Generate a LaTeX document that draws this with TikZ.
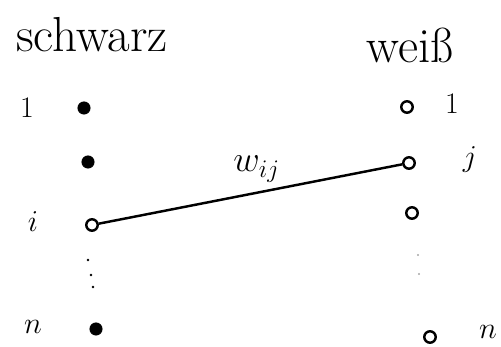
\documentclass[tikz,border=0pt]{standalone}
\begin{document}
\begin{tikzpicture}[x=0.02cm,y=-0.02cm,
  bdot/.style={circle,fill=black,draw=black,inner sep=0pt,minimum size=7pt},
  wdot/.style={circle,draw=black,line width=1.4pt,fill=white,inner sep=0pt,minimum size=6.5pt},
  tiny/.style={circle,fill=black,inner sep=0pt,minimum size=1.6pt},
  tinyg/.style={circle,fill=gray!70,inner sep=0pt,minimum size=1.2pt},
  lab/.style={font=\fontsize{17}{20}\selectfont},
  head/.style={font=\fontsize{28}{32}\selectfont}]
\useasboundingbox (0,0) rectangle (501,347);
% headings
\node[head] (hs) at (92,35) {schwarz};
\node[head] (hw) at (410,45) {weiß};
% black side
\node[bdot] (b1) at (84,108) {};
\node[bdot] (b2) at (88,162) {};
\node[wdot] (bi) at (92,225) {};
\node[tiny] (bd1) at (88,260) {};
\node[tiny] (bd2) at (91,275) {};
\node[tiny] (bd3) at (93,287) {};
\node[bdot] (bn) at (96,329) {};
\node[lab] (l1) at (27,108) {1};
\node[lab] (li) at (33,222) {$i$};
\node[lab] (ln) at (33,327) {$n$};
% white side
\node[wdot] (w1) at (407,107) {};
\node[wdot] (wj) at (409,163) {};
\node[wdot] (w3) at (412,213) {};
\node[tinyg] (wd1) at (418,255) {};
\node[tinyg] (wd2) at (419,274) {};
\node[wdot] (wn) at (430,337) {};
\node[lab] (r1) at (452,104) {1};
\node[lab] (rj) at (470,160) {$j$};
\node[lab] (rn) at (488,332) {$n$};
% edge
\draw[line width=1.4pt] (bi) -- node[above,pos=0.52,font=\fontsize{20}{24}\selectfont,yshift=2pt] {$w_{ij}$} (wj);
\end{tikzpicture}
\end{document}
